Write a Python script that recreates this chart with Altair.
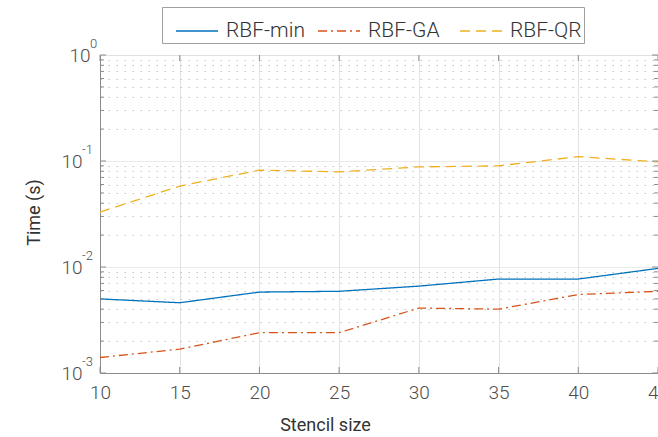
import altair as alt
import pandas as pd

stencil = [10, 15, 20, 25, 30, 35, 40, 45]
rbf_min = [0.0050, 0.0046, 0.0058, 0.0059, 0.0066, 0.0077, 0.0077, 0.0097]
rbf_ga = [0.0014, 0.00168, 0.0024, 0.0024, 0.0041, 0.0040, 0.0055, 0.0059]
rbf_qr = [0.033, 0.058, 0.082, 0.079, 0.088, 0.090, 0.110, 0.098]
series = ["RBF-min", "RBF-GA", "RBF-QR"]
colors = ["#0072BD", "#D95319", "#EDB120"]
dashes = [[1, 0], [9, 4, 2, 4], [10, 6]]

major = [1.0, 0.1, 0.01, 0.001]
exponents = ["0", "-1", "-2", "-3"]
minor = [k * 10.0 ** e for e in (-3, -2, -1) for k in range(2, 10)]

W, H = 558, 318
FONT = "Roboto"
LBL = "#4d4d4d"

rows = []
for name, vals in zip(series, [rbf_min, rbf_ga, rbf_qr]):
    for s, v in zip(stencil, vals):
        rows.append({"Stencil": s, "Time": v, "Method": name})
df = pd.DataFrame(rows)

xs = alt.Scale(domain=[10, 45], nice=False, zero=False)
ys = alt.Scale(type="log", domain=[0.001, 1], nice=False)

is_major = "abs(log(datum.value)/LN10 - round(log(datum.value)/LN10)) < 0.001"

x_axis = alt.Axis(
    values=stencil, grid=True, gridColor="#e2e2e2", ticks=False,
    domainColor="#8c8c8c", labelFont=FONT, labelFontSize=19, labelColor=LBL,
    labelFontWeight=300, labelPadding=10, labelFlush=False,
    title="Stencil size", titleFont=FONT, titleFontSize=18, titleFontWeight=400,
    titleColor="#333333", titleX=225, titleY=52, titleBaseline="middle",
    titleAlign="center", titleAnchor="start",
)
y_axis = alt.Axis(
    values=major + minor,
    labelExpr=f"({is_major}) ? '10' : ''",
    grid=True,
    gridColor={"condition": {"test": is_major, "value": "#e2e2e2"}, "value": "#c4c4c4"},
    gridDash={"condition": {"test": is_major, "value": [1, 0]}, "value": [1.5, 6.5]},
    ticks=False, domainColor="#8c8c8c",
    labelFont=FONT, labelFontSize=19, labelColor=LBL, labelFontWeight=300,
    labelPadding={"condition": {"test": "datum.value == 1", "value": 10}, "value": 18},
    labelBaseline="middle", labelFlush=False,
    title="Time (s)", titleFont=FONT, titleFontSize=18, titleFontWeight=400,
    titleColor="#333333", titleX=-66, titleY=157, titleBaseline="middle",
    titleAlign="center", titleAnchor="start",
)

legend = alt.Legend(
    title=None, orient="none", legendX=62, legendY=-48, direction="horizontal",
    columns=3, fillColor="white", strokeColor="#a0a0a0", padding=2,
    symbolType="stroke", symbolSize=1764, symbolStrokeWidth=1.3, symbolOffset=11,
    labelFont=FONT, labelFontSize=21, labelFontWeight=300, labelColor="#333333",
    labelOffset=7, gridAlign="all", columnPadding=1, cornerRadius=0,
)

lines = alt.Chart(df).mark_line(strokeWidth=1.3, clip=False).encode(
    x=alt.X("Stencil:Q", scale=xs, axis=x_axis),
    y=alt.Y("Time:Q", scale=ys, axis=y_axis),
    color=alt.Color("Method:N", scale=alt.Scale(domain=series, range=colors),
                    legend=legend),
    strokeDash=alt.StrokeDash("Method:N", scale=alt.Scale(domain=series, range=dashes),
                              legend=legend),
)

ydf_major = pd.DataFrame({"v": major, "e": exponents})
ydf_minor = pd.DataFrame({"v": minor})
xdf = pd.DataFrame({"s": stencil})
TICK = "#8c8c8c"

left_major = alt.Chart(ydf_major).mark_rule(color=TICK, strokeWidth=1).encode(
    y=alt.Y("v:Q", scale=ys), x=alt.value(0), x2=alt.value(6))
left_minor = alt.Chart(ydf_minor).mark_rule(color=TICK, strokeWidth=1).encode(
    y=alt.Y("v:Q", scale=ys), x=alt.value(0), x2=alt.value(4))
right_major = alt.Chart(ydf_major).mark_rule(color=TICK, strokeWidth=1).encode(
    y=alt.Y("v:Q", scale=ys), x=alt.value(W - 6), x2=alt.value(W))
right_minor = alt.Chart(ydf_minor).mark_rule(color=TICK, strokeWidth=1).encode(
    y=alt.Y("v:Q", scale=ys), x=alt.value(W - 4), x2=alt.value(W))
bottom_ticks = alt.Chart(xdf).mark_rule(color=TICK, strokeWidth=1).encode(
    x=alt.X("s:Q", scale=xs), y=alt.value(H), y2=alt.value(H - 6))
top_ticks = alt.Chart(xdf).mark_rule(color=TICK, strokeWidth=1).encode(
    x=alt.X("s:Q", scale=xs), y=alt.value(0), y2=alt.value(6))

exp0 = alt.Chart(ydf_major).transform_filter("datum.v == 1").mark_text(
    align="left", baseline="middle", dy=-11, fontSize=13, font=FONT,
    fontWeight=300, color=LBL).encode(
    y=alt.Y("v:Q", scale=ys), x=alt.value(-10), text="e:N")
expn = alt.Chart(ydf_major).transform_filter("datum.v < 1").mark_text(
    align="left", baseline="middle", dy=-11, fontSize=13, font=FONT,
    fontWeight=300, color=LBL).encode(
    y=alt.Y("v:Q", scale=ys), x=alt.value(-18), text="e:N")

chart = alt.layer(
    lines, left_major, left_minor, right_major, right_minor,
    bottom_ticks, top_ticks, exp0, expn,
).properties(
    width=W, height=H,
    autosize=alt.AutoSizeParams(type="none"),
    padding={"left": 100, "top": 55, "right": 0, "bottom": 64},
).configure_view(
    stroke="#9a9a9a", strokeWidth=1,
).configure(background="white")

chart.save("out.html", embed_options={"renderer": "svg", "actions": False})
